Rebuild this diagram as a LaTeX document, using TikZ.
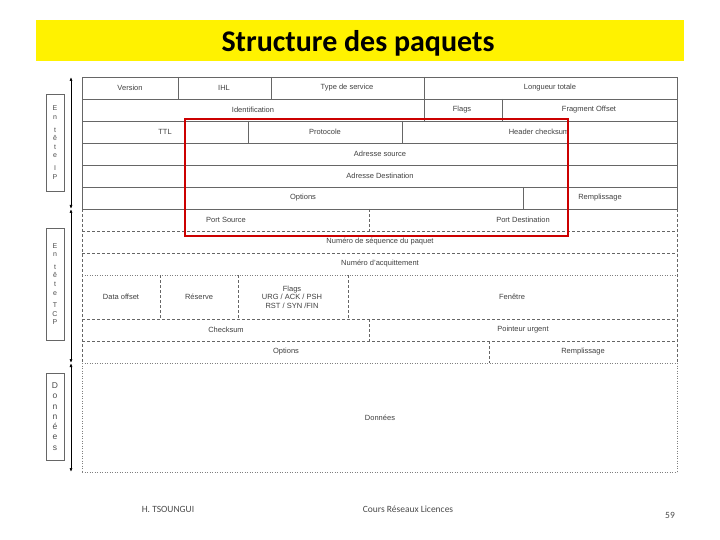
\documentclass[tikz,border=0pt]{standalone}
\usepackage{fontspec}
\usetikzlibrary{arrows.meta}
\setmainfont{Liberation Sans}
\newfontfamily\calfont{Carlito}
\begin{document}
\begin{tikzpicture}[x=1pt,y=-1pt,
  lbl/.style={font=\fontsize{7.5}{8.5}\selectfont,text=black!75,inner sep=0pt,align=center},
  solidl/.style={draw=black!60,line width=0.6pt},
  dashl/.style={draw=black!60,line width=0.6pt,dash pattern=on 3pt off 2pt},
  dotl/.style={draw=black!50,line width=0.5pt,dotted},
  side/.style={draw=black!60,line width=0.6pt},
  sidetxt/.style={font=\fontsize{7}{8.6}\selectfont,text=black!70,align=center,inner sep=0pt},
  arr/.style={black,line width=0.7pt,{Latex[length=4pt]}-{Latex[length=4pt]}}]
\useasboundingbox (0,0) rectangle (720,540);
\fill[white] (0,0) rectangle (720,540);
% title
\fill[yellow] (36,20) rectangle (684,61);
\node[font=\calfont\fontsize{30}{32}\selectfont\bfseries] (title) at (358,43) {Structure des paquets};
% IP header solid
\draw[solidl] (82,77) rectangle (677,209);
\foreach \y in {99,121,143,165,187} \draw[solidl] (82,\y) -- (677,\y);
\draw[solidl] (178,77)--(178,99) (271,77)--(271,99) (424,77)--(424,121) (502,99)--(502,121)
  (248,121)--(248,143) (402,121)--(402,143) (523,187)--(523,209);
% TCP dashed
\draw[dashl] (82,209)--(82,363) (677,209)--(677,363);
\draw[dashl] (82,231)--(677,231) (82,253)--(677,253) (82,319)--(677,319) (82,341)--(677,341);
\draw[dotl] (82,275)--(677,275) (82,363)--(677,363) (82,472)--(677,472) (82,363)--(82,472) (677,363)--(677,472);
\draw[dashl] (369,209)--(369,231) (160,275)--(160,319) (238,275)--(238,319) (348,275)--(348,319)
  (369,319)--(369,341) (489,341)--(489,363);
% labels
\node[lbl] (v) at (130,88) {Version};
\node[lbl] (ihl) at (224,88) {IHL};
\node[lbl] (tos) at (347,88) {Type de service};
\node[lbl] (lt) at (550,88) {Longueur totale};
\node[lbl] (id) at (253,110) {Identification};
\node[lbl] (fl) at (462,110) {Flags};
\node[lbl] (fo) at (589,110) {Fragment Offset};
\node[lbl] (ttl) at (165,132) {TTL};
\node[lbl] (pr) at (325,132) {Protocole};
\node[lbl] (hc) at (539,132) {Header checksum};
\node[lbl] (as) at (380,154) {Adresse source};
\node[lbl] (ad) at (380,176) {Adresse Destination};
\node[lbl] (op) at (303,198) {Options};
\node[lbl] (re) at (600,198) {Remplissage};
\node[lbl] (ps) at (226,220) {Port Source};
\node[lbl] (pd) at (523,220) {Port Destination};
\node[lbl] (ns) at (380,242) {Numéro de séquence du paquet};
\node[lbl] (na) at (380,264) {Numéro d'acquittement};
\node[lbl] (do) at (121,297) {Data offset};
\node[lbl] (rs) at (199,297) {Réserve};
\node[lbl] (fg) at (292,297) {Flags\\URG / ACK / PSH\\RST / SYN /FIN};
\node[lbl] (fe) at (512,297) {Fenêtre};
\node[lbl] (cs) at (226,330) {Checksum};
\node[lbl] (pu) at (523,330) {Pointeur urgent};
\node[lbl] (op2) at (286,352) {Options};
\node[lbl] (re2) at (583,352) {Remplissage};
\node[lbl] (dn) at (380,418) {Données};
% red box
\draw[red!80!black,line width=2.2pt] (185,119) rectangle (568,236);
% side boxes
\node[side,minimum width=18pt,minimum height=97pt,inner sep=0pt] (sip) at (55,142.5) {};
\node[sidetxt] (tip) at (55,142.5) {E\\n\\[4pt]t\\ê\\t\\e\\[4pt]I\\P};
\node[side,minimum width=18pt,minimum height=112pt,inner sep=0pt] (stcp) at (55,284) {};
\node[sidetxt] (ttcp) at (55,284) {E\\n\\[4pt]t\\ê\\t\\e\\[4pt]T\\C\\P};
\node[side,minimum width=18pt,minimum height=87pt,inner sep=0pt] (sdon) at (55,416.5) {};
\node[sidetxt,font=\fontsize{8.5}{10.3}\selectfont] (tdon) at (55,416.5) {D\\o\\n\\n\\é\\e\\s};
% arrows
\coordinate (a1) at (71,77); \coordinate (a2) at (71,209);
\coordinate (a3) at (71,363); \coordinate (a4) at (71,472);
\draw[arr] (a1) -- (a2);
\draw[arr] (a2) -- (a3);
\draw[arr] (a3) -- (a4);
% footer
\node[font=\calfont\fontsize{9.5}{11}\selectfont,text=black!70] (f1) at (168,509) {H. TSOUNGUI};
\node[font=\calfont\fontsize{9.5}{11}\selectfont,text=black!70] (f2) at (408,509) {Cours Réseaux Licences};
\node[font=\calfont\fontsize{9.5}{11}\selectfont,text=black!70] (f3) at (670,515) {59};
\end{tikzpicture}
\end{document}
